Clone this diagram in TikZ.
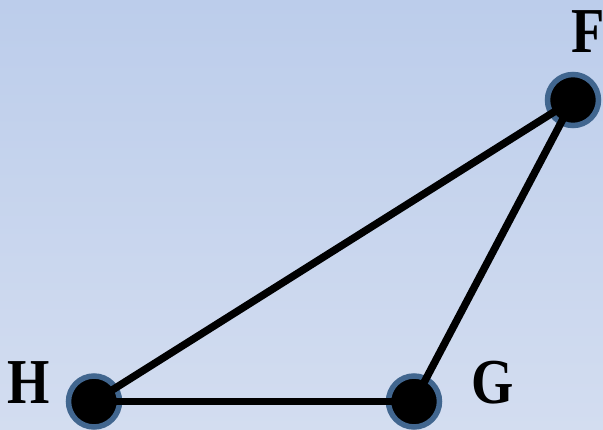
\documentclass[tikz,border=0pt]{standalone}
\usepackage{fontspec}
\setmainfont{Liberation Serif}
\definecolor{bgtop}{RGB}{188,205,235}
\definecolor{bgbot}{RGB}{211,221,240}
\definecolor{ring}{RGB}{65,102,143}
\begin{document}
\begin{tikzpicture}[x=1pt,y=1pt,
  vertex/.style={circle,fill=black,draw=ring,line width=5.5pt,minimum size=51pt,inner sep=0pt},
  edge/.style={line width=7.5pt,black},
  lbl/.style={font=\fontsize{64}{64}\selectfont\bfseries,xscale=0.85,inner sep=0pt}]
\shade[bottom color=bgbot,top color=bgtop] (0,0) rectangle (603,430);
\useasboundingbox (0,0) rectangle (603,430);
\node[vertex] (F) at (573,330) {};
\node[vertex] (H) at (94,28.5) {};
\node[vertex] (G) at (414,28.5) {};
\draw[edge] (H.center) -- (F.center);
\draw[edge] (F.center) -- (G.center);
\draw[edge] (H.center) -- (G.center);
\node[lbl] (lF) at (588,398) {F};
\node[lbl] (lH) at (29,47) {H};
\node[lbl] (lG) at (493,47) {G};
\end{tikzpicture}
\end{document}
